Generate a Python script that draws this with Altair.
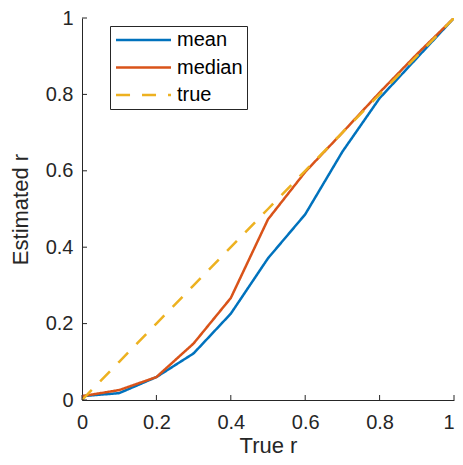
import altair as alt
import pandas as pd

true_r = [0.0, 0.1, 0.2, 0.3, 0.4, 0.5, 0.6, 0.7, 0.8, 0.9, 1.0]
mean_r = [0.01, 0.018, 0.06, 0.122, 0.226, 0.371, 0.486, 0.65, 0.79, 0.895, 1.0]
median_r = [0.01, 0.026, 0.06, 0.148, 0.267, 0.473, 0.597, 0.70, 0.805, 0.905, 1.0]
series = ["mean", "median", "true"]
colors = ["#0072BD", "#D95319", "#EDB120"]
dashes = [[1, 0], [1, 0], [14, 12]]
tick_values = [0, 0.2, 0.4, 0.6, 0.8, 1]

rows = []
for x, m, md in zip(true_r, mean_r, median_r):
    rows.append({"x": x, "y": m, "s": "mean"})
    rows.append({"x": x, "y": md, "s": "median"})
    rows.append({"x": x, "y": x, "s": "true"})
df = pd.DataFrame(rows)
ticks = pd.DataFrame({"t": tick_values})

W, H = 372, 382
FONT = "Liberation Sans"
TXT = "#262626"

xscale = alt.Scale(domain=[0, 1], nice=False, zero=False)
yscale = alt.Scale(domain=[0, 1], nice=False, zero=False)

lines = alt.Chart(df).mark_line(strokeWidth=2.5, clip=True).encode(
    x=alt.X("x:Q", scale=xscale, axis=alt.Axis(
        title="True r", values=tick_values, ticks=False, format=".1~f",
        labelPadding=12, labelFontSize=20,
        labelAlign={"condition": {"test": "datum.value == 1", "value": "right"}, "value": "center"},
        titleFontSize=22, titleY=52, titleBaseline="alphabetic")),
    y=alt.Y("y:Q", scale=yscale, axis=alt.Axis(
        title="Estimated r", values=tick_values, ticks=False, format=".1~f",
        labelPadding=9, labelFontSize=20,
        titleFontSize=22, titleX=-55, titleBaseline="alphabetic")),
    color=alt.Color("s:N", scale=alt.Scale(domain=series, range=colors), title=None,
                    legend=alt.Legend(orient="none", legendX=28, legendY=8,
                                      symbolType="M-1.45,0H8.55", symbolSize=121, symbolStrokeWidth=2.5,
                                      strokeColor=TXT, fillColor="white", titlePadding=0,
                                      padding=4, labelFontSize=20, labelFont=FONT,
                                      labelColor="black", rowPadding=7.5, labelOffset=43)),
    strokeDash=alt.StrokeDash("s:N", scale=alt.Scale(domain=series, range=dashes), title=None, legend=None),
    order=alt.Order("s:N"),
)

xt = alt.Chart(ticks).mark_rule(color=TXT, strokeWidth=1).encode(
    x=alt.X("t:Q", scale=xscale), y=alt.value(H), y2=alt.value(H - 5))
yt = alt.Chart(ticks).mark_rule(color=TXT, strokeWidth=1).encode(
    y=alt.Y("t:Q", scale=yscale), x=alt.value(0), x2=alt.value(5))

chart = alt.layer(lines, xt, yt).properties(
    width=W, height=H,
    autosize=alt.AutoSizeParams(type="none"),
    padding={"left": 74, "top": 10, "right": 1, "bottom": 57},
).configure_view(stroke=None).configure_axis(
    domainColor=TXT, domainWidth=1, labelColor=TXT, titleColor=TXT,
    labelFont=FONT, titleFont=FONT,
    titleFontWeight="normal", grid=False,
).configure_legend(labelFont=FONT)

chart.save("out.html", embed_options={"renderer": "svg", "actions": False})
